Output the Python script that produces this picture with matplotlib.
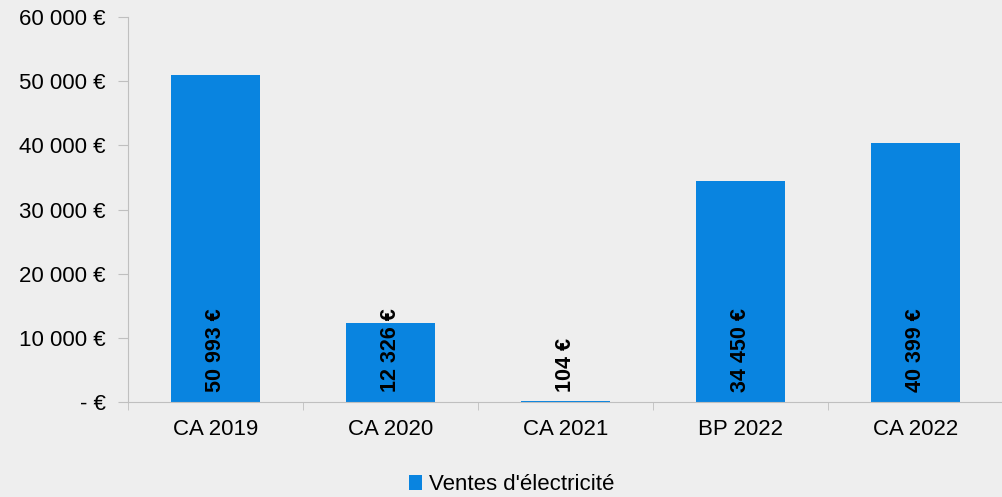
import matplotlib.pyplot as plt
import numpy as np

# Données
categories = ['CA 2019', 'CA 2020', 'CA 2021', 'BP 2022', 'CA 2022']
ventes = [50993, 12326, 104, 34450, 40399]
yticks = [0, 10000, 20000, 30000, 40000, 50000, 60000]

def euro(v):
    if v == 0:
        return '- €'
    return f'{v:,.0f}'.replace(',', ' ') + ' €'

plt.rcParams['font.family'] = ['Liberation Sans', 'DejaVu Sans']
bg = '#eeeeee'
gris = '#bfbfbf'

fig = plt.figure(figsize=(10.03, 4.97), dpi=100, facecolor=bg)
ax = fig.add_axes([0.1276, 0.1911, 0.8724, 0.7747], facecolor=bg)

x = np.arange(len(categories))
bars = ax.bar(x, ventes, width=0.51, color='#0984e0', label="Ventes d'électricité")

# Etiquettes verticales dans les barres
for xi, v in zip(x, ventes):
    ax.text(xi, 1500, euro(v), rotation=90, ha='center', va='bottom',
            fontsize=15.5, fontweight='bold', color='black')

ax.set_xlim(-0.5, 4.5)
ax.set_ylim(0, 60000)
ax.set_yticks(yticks)
ax.set_yticklabels([euro(v) for v in yticks], fontsize=16)
ax.set_xticks(x)
ax.set_xticklabels(categories, fontsize=16)
ax.set_xticks(np.arange(-0.5, 4.6, 1), minor=True)

for s in ['top', 'right']:
    ax.spines[s].set_visible(False)
for s in ['left', 'bottom']:
    ax.spines[s].set_color(gris)
ax.tick_params(axis='y', color=gris, length=7, pad=9)
ax.tick_params(axis='x', which='major', length=0, pad=12)
ax.tick_params(axis='x', which='minor', color=gris, length=6)

ax.legend(loc='center', bbox_to_anchor=(0.438, -0.215), frameon=False,
          fontsize=16, handlelength=0.6, handleheight=0.6, handletextpad=0.3)

plt.savefig('out.png', dpi=100, facecolor=bg)
